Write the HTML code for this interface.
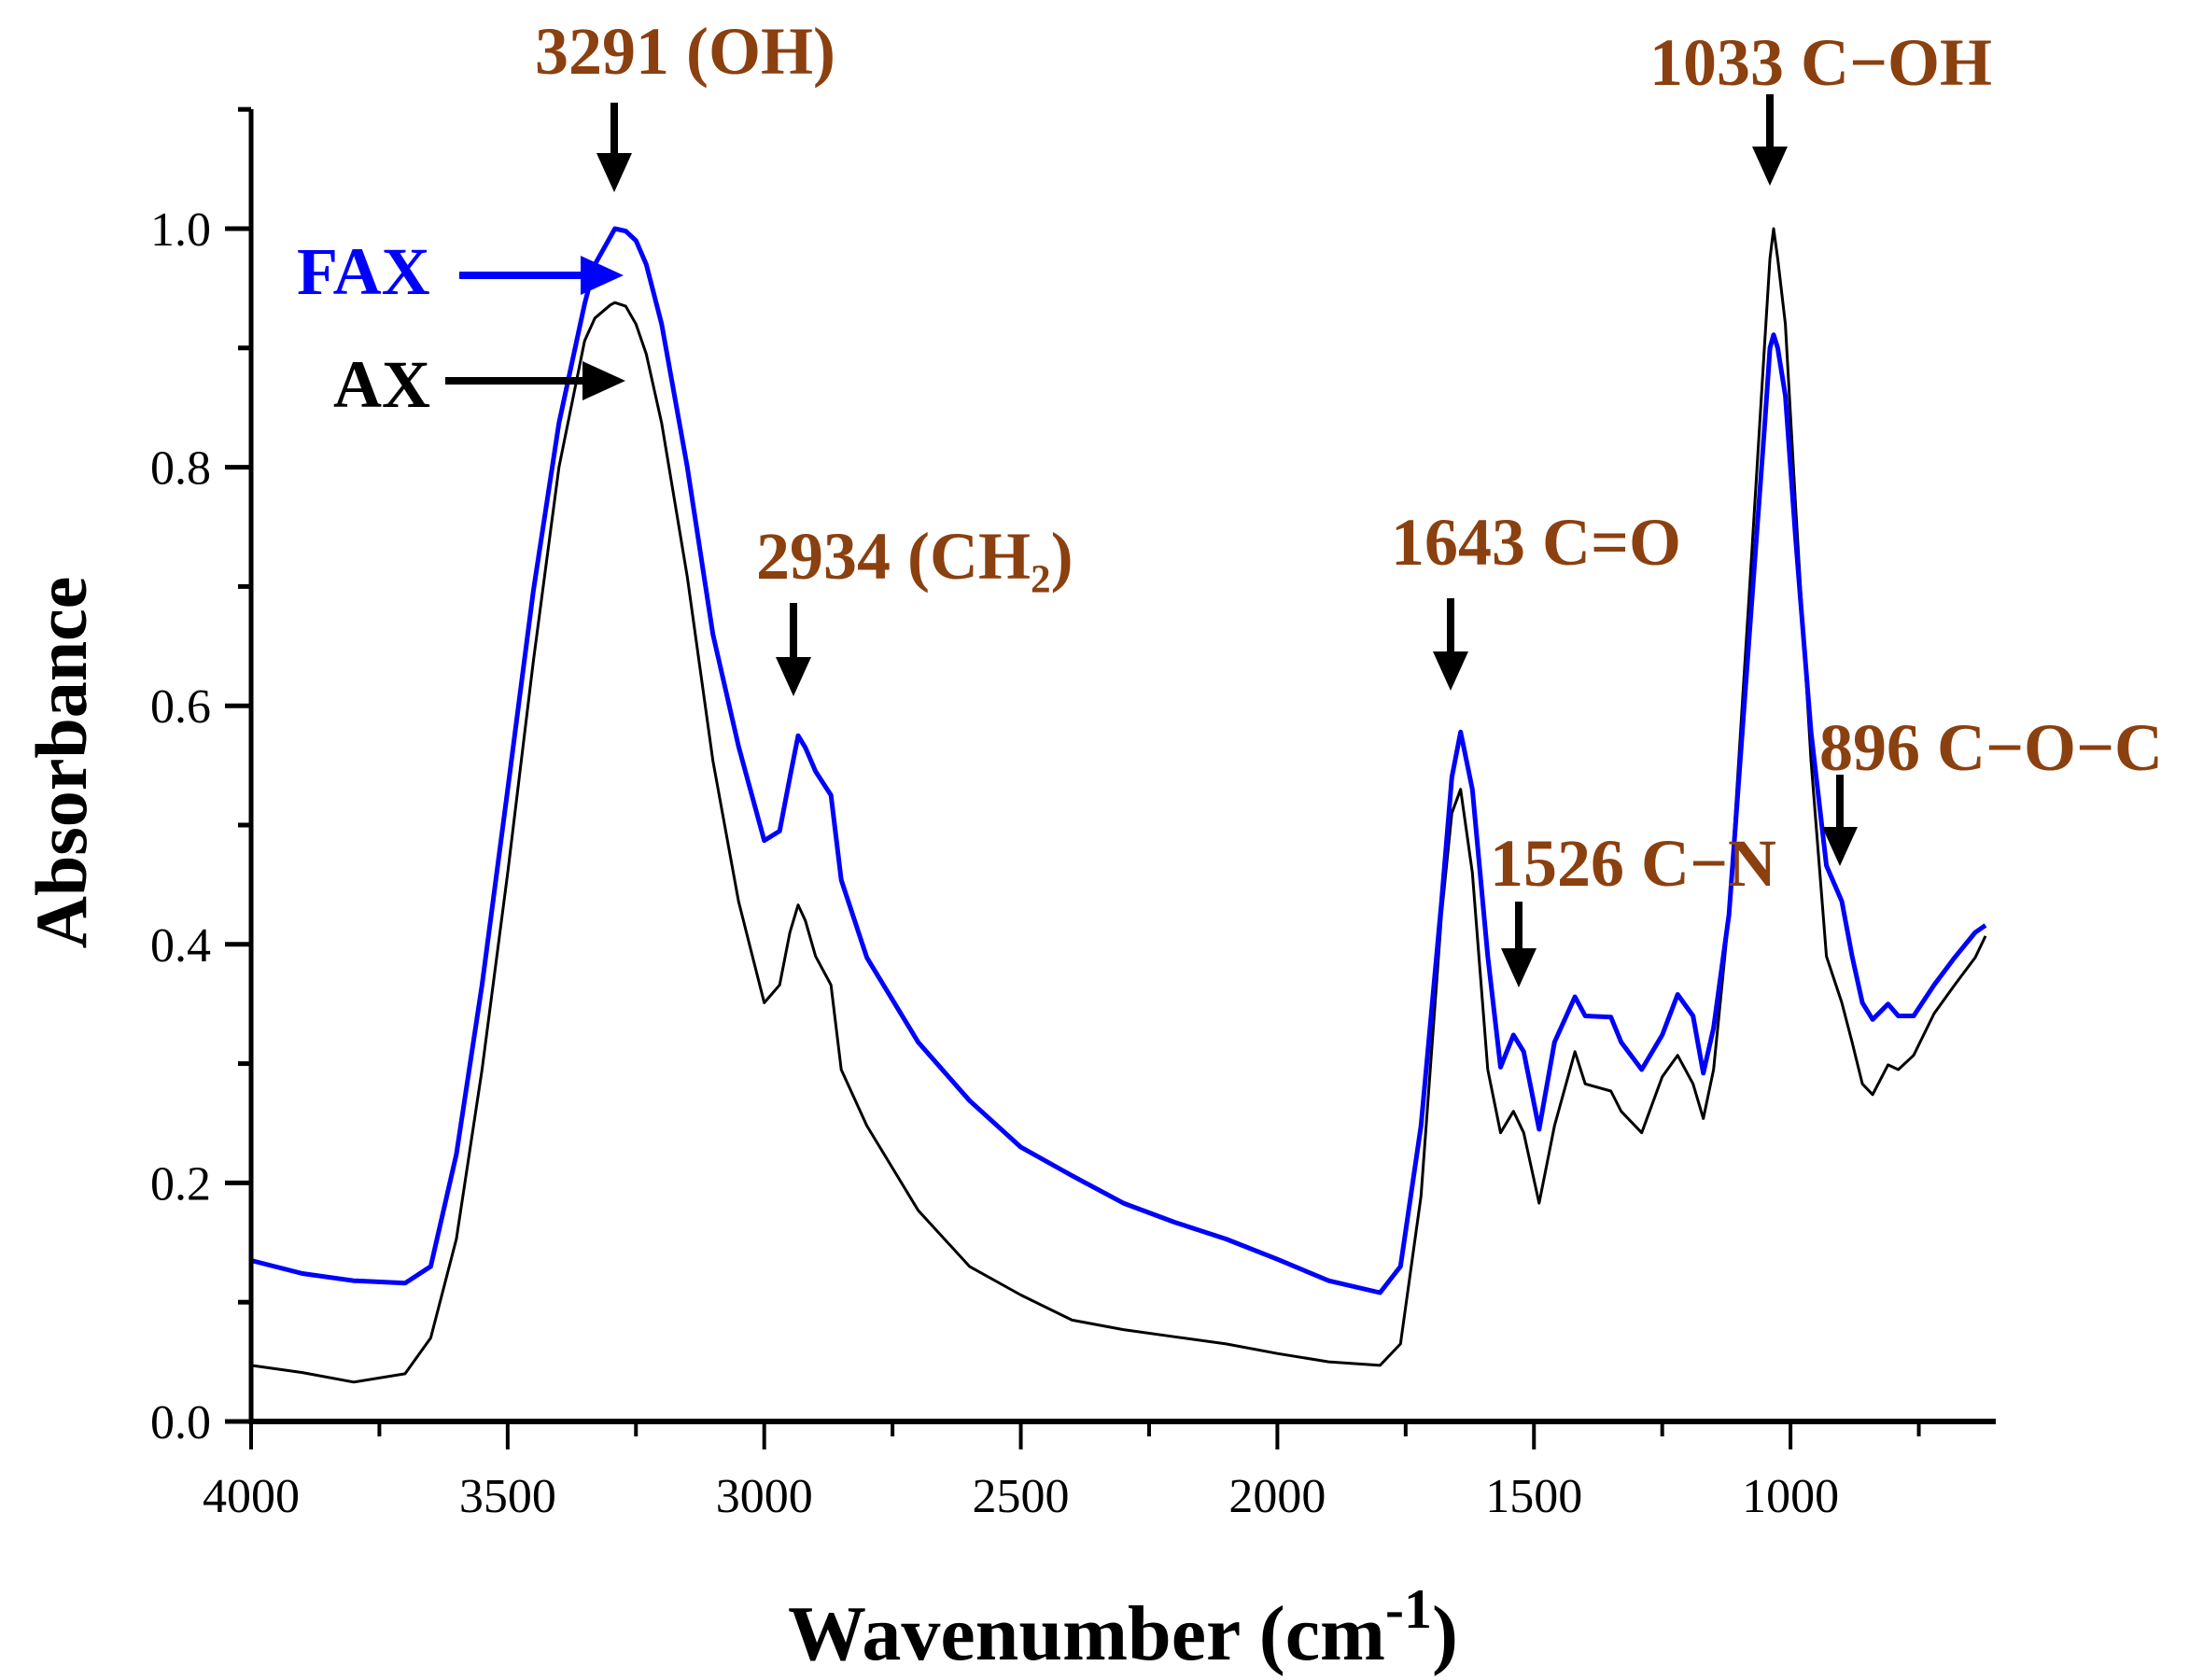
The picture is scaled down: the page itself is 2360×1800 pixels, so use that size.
<!DOCTYPE html>
<html><head><meta charset="utf-8"><style>
html,body{margin:0;padding:0;background:#fff;width:2360px;height:1800px;overflow:hidden}
svg text{font-family:"Liberation Serif",serif}
</style></head><body>
<svg id="chart" width="2360" height="1800" xmlns="http://www.w3.org/2000/svg">
<g id="series"></g>
<g id="axes"></g>
<g id="ann"></g>
</svg>
<script>
const wavenumbers = [4000,3900,3800,3700,3650,3600,3550,3500,3450,3400,3350,3330,3300,3291,3270,3250,3230,3200,3150,3100,3050,3000,2970,2950,2934,2920,2900,2870,2850,2800,2700,2600,2500,2400,2300,2200,2100,2000,1900,1800,1760,1720,1680,1660,1643,1620,1590,1565,1540,1520,1490,1460,1420,1400,1350,1330,1290,1250,1220,1190,1170,1150,1120,1080,1050,1040,1033,1025,1010,990,960,930,900,880,860,840,810,790,760,720,680,640,620];
const faxValues = [0.135,0.124,0.118,0.116,0.13,0.224,0.366,0.53,0.696,0.837,0.937,0.97,0.993,1.0,0.998,0.99,0.97,0.92,0.80,0.66,0.566,0.487,0.495,0.54,0.575,0.565,0.545,0.525,0.454,0.389,0.318,0.269,0.23,0.206,0.183,0.167,0.153,0.136,0.118,0.108,0.13,0.248,0.436,0.54,0.578,0.53,0.39,0.297,0.324,0.31,0.245,0.318,0.356,0.34,0.339,0.318,0.295,0.324,0.358,0.34,0.292,0.33,0.425,0.66,0.837,0.9,0.911,0.9,0.86,0.74,0.578,0.466,0.436,0.39,0.351,0.337,0.35,0.34,0.34,0.366,0.389,0.41,0.416];
const axValues = [0.047,0.041,0.033,0.04,0.07,0.153,0.295,0.46,0.637,0.80,0.906,0.925,0.936,0.938,0.935,0.92,0.895,0.837,0.708,0.554,0.436,0.351,0.366,0.41,0.433,0.42,0.39,0.366,0.295,0.248,0.177,0.13,0.106,0.085,0.077,0.071,0.065,0.057,0.05,0.047,0.065,0.189,0.425,0.51,0.53,0.46,0.295,0.242,0.26,0.242,0.183,0.248,0.31,0.283,0.277,0.26,0.242,0.289,0.307,0.283,0.254,0.295,0.425,0.696,0.906,0.975,1.0,0.975,0.92,0.767,0.554,0.39,0.351,0.318,0.283,0.274,0.299,0.295,0.307,0.342,0.366,0.389,0.407];
const xTickLabels = [4000,3500,3000,2500,2000,1500,1000];
const yTickLabels = ["0.0","0.2","0.4","0.6","0.8","1.0"];

const NS="http://www.w3.org/2000/svg";
const X0=269,X1=2138,Y0=1523,Ytop=117;
const xMin=4000,xMax=600;
const yPerUnit=(Y0-245);
function xs(w){return X0+(xMin-w)*(X1-X0)/(xMin-xMax);}
function ys(v){return Y0-v*yPerUnit;}
function mk(tag,attrs,parent){const e=document.createElementNS(NS,tag);for(const k in attrs)e.setAttribute(k,attrs[k]);parent.appendChild(e);return e;}
const series=document.getElementById('series'),axes=document.getElementById('axes'),ann=document.getElementById('ann');

function line(vals,color,w,name){
  const d=wavenumbers.map((wn,i)=>(i?'L':'M')+xs(wn).toFixed(1)+','+ys(vals[i]).toFixed(1)).join(' ');
  const p=mk('path',{d:d,fill:'none',stroke:color,'stroke-width':w,'stroke-linejoin':'round'},series);
  
  
}
line(axValues,'#000',3,'ax-line');
line(faxValues,'#0000ff',5,'fax-line');

let a=mk('line',{x1:X0,y1:Y0,x2:X1,y2:Y0,stroke:'#000','stroke-width':6},axes);


a=mk('line',{x1:X0,y1:Y0+3,x2:X0,y2:Ytop,stroke:'#000','stroke-width':5},axes);


for(let w=4000;w>=650;w-=250){
  const major=(w%500===0);
  const t=mk('line',{x1:xs(w),y1:Y0,x2:xs(w),y2:Y0+(major?30:16),stroke:'#000','stroke-width':4},axes);
  
  
}
xTickLabels.forEach(v=>{
  const t=mk('text',{x:xs(v),y:1620,'font-size':52,'text-anchor':'middle'},axes);t.textContent=v;
  
  
});
for(let i=0;i<=11;i++){
  const v=i/10,major=(i%2===0);
  const t=mk('line',{x1:X0,y1:ys(v),x2:X0-(major?28:14),y2:ys(v),stroke:'#000','stroke-width':5},axes);
  
  
}
yTickLabels.forEach(s=>{
  const t=mk('text',{x:226,y:ys(parseFloat(s))+18,'font-size':52,'text-anchor':'end'},axes);t.textContent=s;
  
  
});
let tt=mk('text',{x:1203,y:1778,'font-size':84,'font-weight':'bold','text-anchor':'middle'},axes);
tt.innerHTML='Wavenumber (cm<tspan dy="-34" font-size="60">-1</tspan><tspan dy="34">)</tspan>';


tt=mk('text',{x:0,y:0,'font-size':78,'font-weight':'bold','text-anchor':'middle',transform:'translate(92,817) rotate(-90)'},axes);
tt.textContent='Absorbance';



function varrow(x,y1,y2,name){
  const g=mk('g',{},ann);
  
  
  mk('line',{x1:x,y1:y1,x2:x,y2:y2-38,stroke:'#000','stroke-width':8},g);
  mk('polygon',{points:(x-19)+','+(y2-42)+' '+(x+19)+','+(y2-42)+' '+x+','+y2,fill:'#000'},g);
}
function harrow(x1,x2,y,color,name){
  const g=mk('g',{},ann);
  
  
  mk('line',{x1:x1,y1:y,x2:x2-40,y2:y,stroke:color,'stroke-width':8},g);
  mk('polygon',{points:(x2-46)+','+(y-21)+' '+(x2-46)+','+(y+21)+' '+x2+','+y,fill:color},g);
}
function label(txt,x,y,color,anchor,name){
  const t=mk('text',{x:x,y:y,'font-size':72,'font-weight':'bold',fill:color,'text-anchor':anchor},ann);
  t.textContent=txt;
  
  
}
const BR='#8b4010';
label('3291 (OH)',734,79,BR,'middle','label-3291-oh');
varrow(658,110,206,'arrow-3291');
label('FAX',318,315,'#0000ff','start','legend-fax');
harrow(492,668,295,'#0000ff','arrow-fax');
label('AX',357,436,'#000','start','legend-ax');
harrow(477,670,408,'#000','arrow-ax');
label('2934 (CH\u2082)',810,620,BR,'start','label-2934-ch2');
varrow(850,646,746,'arrow-2934');
label('1643 C=O',1490,605,BR,'start','label-1643-co');
varrow(1554,641,740,'arrow-1643');
label('1526 C\u2212N',1596,949,BR,'start','label-1526-cn');
varrow(1627,966,1058,'arrow-1526');
label('896 C\u2212O\u2212C',1949,825,BR,'start','label-896-coc');
varrow(1971,830,928,'arrow-896');
label('1033 C\u2212OH',1767,91,BR,'start','label-1033-coh');
varrow(1896,101,199,'arrow-1033');
</script>
</body></html>
